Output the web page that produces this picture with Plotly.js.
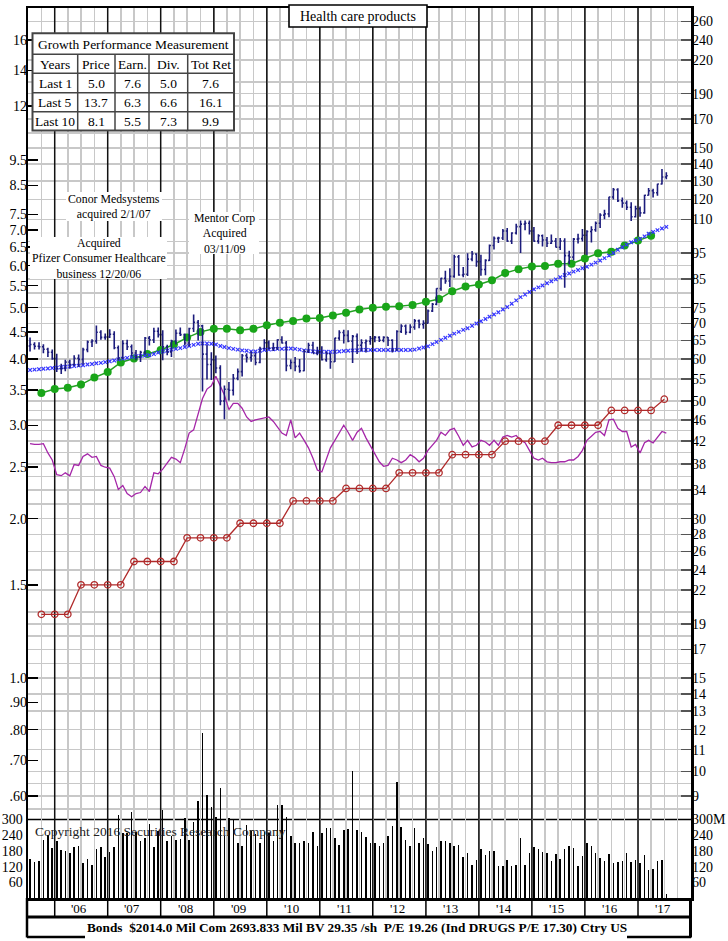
<!DOCTYPE html>
<html><head><meta charset="utf-8">
<script src="https://cdn.plot.ly/plotly-3.0.1.min.js"></script>
<style>html,body{margin:0;padding:0;background:#fff;}#chart{width:728px;height:941px;}</style>
</head><body><div id="chart"></div>
<script>
// ---------------- DATA ----------------
const firstMonth = [2005, 7];   // first monthly bar: Jul 2005
const priceOpen = [63.5,63.9,63.4,63.3,62.6,61.8,60.1,57.5,57.6,59.2,58.6,60.2,59.9,62.5,64.6,64.9,67.4,65.9,66.0,66.8,63.0,60.3,64.2,63.3,61.6,60.5,61.8,65.7,65.2,67.7,66.7,63.3,61.9,64.9,67.1,66.7,64.3,68.5,70.4,69.3,61.3,58.6,59.8,57.7,50.0,52.6,52.4,55.2,56.8,60.9,60.4,60.9,59.1,62.8,64.4,62.9,63.0,65.2,64.3,58.3,59.1,58.1,57.0,62.0,63.7,61.5,61.9,59.8,61.4,59.3,65.7,67.3,66.5,64.8,66.2,63.7,64.4,64.8,65.6,65.9,65.1,65.9,65.1,62.4,67.6,69.2,67.4,68.9,70.8,69.7,70.1,73.9,76.1,81.5,85.2,84.2,85.9,93.5,86.4,86.7,92.6,94.7,91.6,88.5,92.1,98.2,101.3,101.5,104.6,100.1,103.7,106.6,107.8,108.2,104.6,100.1,102.5,100.6,99.2,100.1,97.5,100.2,94.0,93.4,101.0,101.2,102.7,104.4,105.2,108.2,112.1,112.7,121.3,125.2,119.3,118.1,116.0,111.3,115.2,113.2,122.2,124.6,123.5,128.3,132.3];
const priceHigh = [65.9,64.5,64.5,64.0,63.0,62.5,61.4,58.8,59.8,59.8,61.0,61.2,63.0,65.0,65.4,69.4,68.0,67.0,68.3,67.7,63.6,65.1,65.2,63.9,62.4,62.2,66.0,66.3,68.7,68.8,68.0,63.8,65.2,68.2,68.8,67.0,68.7,72.8,71.1,69.6,63.8,61.8,60.9,58.4,53.5,54.3,56.2,57.6,61.3,61.5,62.0,61.7,63.3,65.4,65.0,64.4,65.4,66.2,64.9,59.9,60.5,60.0,62.5,64.4,64.7,63.3,63.4,62.0,61.5,65.8,68.0,68.1,68.0,66.6,67.0,65.4,65.3,66.3,66.3,66.2,66.2,66.0,65.4,68.0,69.8,69.7,69.8,71.4,71.2,71.0,74.4,76.5,81.6,85.4,88.0,89.0,94.4,94.3,89.5,95.0,95.9,95.0,94.4,92.5,98.7,102.1,102.0,105.5,106.0,104.0,108.0,109.5,109.5,109.5,106.5,103.2,103.0,101.9,103.0,101.5,101.5,101.4,96.0,101.5,103.4,105.5,105.0,106.8,109.0,113.0,114.7,121.4,126.1,125.9,121.0,119.4,118.5,116.8,116.4,122.5,126.1,125.7,128.5,137.0,135.0];
const priceLow = [62.0,62.5,62.5,61.5,60.5,59.8,56.7,56.2,56.9,57.5,58.3,58.0,58.6,61.8,63.2,64.1,65.2,65.2,65.7,62.6,59.7,60.0,62.4,60.7,59.7,59.2,61.2,63.6,64.3,65.9,59.7,61.0,60.5,63.9,66.3,63.6,63.4,67.5,65.0,52.1,54.9,54.8,56.4,49.1,46.2,50.1,51.2,54.7,55.6,59.1,59.3,58.4,58.9,62.6,62.6,62.1,62.4,64.2,56.9,57.4,56.9,56.5,56.9,61.6,61.5,61.0,59.6,59.3,57.5,59.2,65.0,64.2,64.5,59.0,61.3,62.0,61.7,63.8,64.5,64.6,64.5,63.5,61.7,62.2,67.2,66.7,67.1,68.1,68.6,68.4,70.0,73.6,75.8,80.7,83.2,82.0,85.4,86.1,85.6,86.0,91.7,89.6,86.1,86.3,91.8,96.5,99.3,100.6,99.8,98.9,103.0,95.1,104.9,103.0,99.8,99.0,97.8,97.6,98.9,97.4,96.3,81.8,90.5,92.1,99.1,100.0,94.3,99.5,104.3,106.0,110.1,111.1,119.9,118.6,115.7,114.6,109.3,110.9,111.3,112.8,122.0,121.0,121.9,128.0,131.0];
const priceClose = [63.9,63.4,63.3,62.6,61.8,60.1,57.5,57.6,59.2,58.6,60.2,59.9,62.5,64.6,64.9,67.4,65.9,66.0,66.8,63.0,60.3,64.2,63.3,61.6,60.5,61.8,65.7,65.2,67.7,66.7,63.3,61.9,64.9,67.1,66.7,64.3,68.5,70.4,69.3,61.3,58.6,59.8,57.7,50.0,52.6,52.4,55.2,56.8,60.9,60.4,60.9,59.1,62.8,64.4,62.9,63.0,65.2,64.3,58.3,59.1,58.1,57.0,62.0,63.7,61.5,61.9,59.8,61.4,59.3,65.7,67.3,66.5,64.8,66.2,63.7,64.4,64.8,65.6,65.9,65.1,65.9,65.1,62.4,67.6,69.2,67.4,68.9,70.8,69.7,70.1,73.9,76.1,81.5,85.2,84.2,85.9,93.5,86.4,86.7,92.6,94.7,91.6,88.5,92.1,98.2,101.3,101.5,104.6,100.1,103.7,106.6,107.8,108.2,104.6,100.1,102.5,100.6,99.2,100.1,97.5,100.2,94.0,93.4,101.0,101.2,102.7,104.4,105.2,108.2,112.1,112.7,121.3,125.2,119.3,118.1,116.0,111.3,115.2,113.2,122.2,124.6,123.5,128.3,132.3,133.0];
// moving average of price (right scale, $)
const movingAvg = [57.2,57.3,57.4,57.5,57.6,57.7,57.8,57.9,58.0,58.1,58.2,58.3,58.4,58.6,58.7,58.9,59.0,59.2,59.4,59.6,59.9,60.1,60.3,60.5,60.7,60.8,60.9,61.0,61.3,61.7,62.0,62.2,62.5,62.7,62.9,63.2,63.5,63.8,64.1,64.2,64.2,64.1,63.9,63.5,63.2,62.9,62.7,62.5,62.3,62.2,62.0,62.0,62.2,62.4,62.5,62.6,62.7,62.7,62.8,62.8,62.7,62.5,62.3,62.1,62.0,61.9,61.9,61.9,61.9,61.9,62.0,62.1,62.2,62.3,62.3,62.4,62.4,62.4,62.4,62.4,62.4,62.4,62.4,62.4,62.4,62.4,62.4,62.5,62.8,63.1,63.4,64.0,64.6,65.2,65.8,66.4,67.0,67.5,68.1,68.6,69.3,70.0,70.7,71.4,72.1,72.8,73.5,74.4,75.2,76.3,77.4,78.5,79.4,80.3,81.2,81.9,82.6,83.4,84.1,84.8,85.6,86.4,87.0,87.7,88.3,89.0,89.6,90.4,91.2,92.0,93.0,94.0,95.1,96.4,97.5,98.6,99.6,100.4,101.1,102.2,103.4,104.2,105.0,105.8,106.5];
// relative strength line (left scale units)
const relStrength = [2.77,2.76,2.76,2.77,2.66,2.58,2.42,2.41,2.44,2.41,2.53,2.52,2.62,2.65,2.61,2.62,2.52,2.50,2.49,2.40,2.27,2.31,2.23,2.20,2.23,2.24,2.30,2.25,2.44,2.43,2.48,2.55,2.61,2.59,2.55,2.71,2.90,2.94,3.14,3.37,3.51,3.56,3.71,3.55,3.42,3.21,3.30,3.30,3.23,3.11,3.05,3.07,3.08,3.09,3.11,3.05,2.98,2.90,2.87,3.07,2.84,2.90,2.81,2.72,2.60,2.47,2.45,2.60,2.72,2.81,2.91,3.00,2.91,2.81,2.91,2.96,2.84,2.74,2.64,2.56,2.51,2.52,2.60,2.58,2.55,2.58,2.64,2.61,2.56,2.60,2.69,2.75,2.81,2.91,2.87,2.94,2.96,2.86,2.75,2.81,2.73,2.75,2.81,2.79,2.75,2.81,2.75,2.85,2.87,2.85,2.87,2.81,2.78,2.69,2.60,2.58,2.60,2.56,2.55,2.55,2.56,2.56,2.58,2.58,2.62,2.69,2.81,2.86,2.91,2.92,2.87,3.07,3.08,2.96,2.92,2.92,2.73,2.76,2.66,2.78,2.81,2.78,2.85,2.92,2.90];
// monthly volume, millions of shares
const volume = [150,137,141,222,240,190,218,182,180,171,195,199,134,150,128,189,195,158,176,193,318,247,247,328,251,219,228,283,195,257,337,219,238,221,225,305,222,290,370,630,395,348,309,420,238,305,300,212,199,279,257,244,212,253,247,219,357,357,309,238,209,209,219,212,251,199,247,266,266,230,202,260,264,487,260,251,235,209,212,199,212,238,277,445,270,222,199,266,212,231,206,180,193,216,219,212,199,202,158,173,128,147,189,163,180,180,122,122,145,122,128,231,125,173,193,189,176,171,141,167,150,189,199,190,124,160,209,199,171,154,141,167,134,137,141,171,137,144,134,163,106,112,140,144,15];
// quarterly earnings (left scale, $/share), from Oct 2005
const firstQuarter = [2005, 10];
const earnings = [3.45,3.51,3.53,3.58,3.69,3.78,3.94,4.01,4.09,4.16,4.26,4.39,4.50,4.56,4.56,4.53,4.56,4.63,4.68,4.72,4.77,4.78,4.83,4.89,4.96,5.00,5.02,5.03,5.06,5.13,5.19,5.37,5.48,5.53,5.63,5.81,5.91,5.98,5.99,6.05,6.05,6.19,6.33,6.37,6.55,6.69,6.83];
// annual dividend rate (left scale), quarterly points
const dividends = [1.32,1.32,1.32,1.50,1.50,1.50,1.50,1.66,1.66,1.66,1.66,1.84,1.84,1.84,1.84,1.96,1.96,1.96,1.96,2.16,2.16,2.16,2.16,2.28,2.28,2.28,2.28,2.44,2.44,2.44,2.44,2.64,2.64,2.64,2.64,2.80,2.80,2.80,2.80,3.00,3.00,3.00,3.00,3.20,3.20,3.20,3.20,3.36];
// axis labels
const leftTicks = [0.6,0.7,0.8,0.9,1.0,1.5,2.0,2.5,3.0,3.5,4.0,4.5,5.0,5.5,6.0,6.5,7.0,7.5,8.5,9.5,12,14,16];
const leftTickText = ['.60','.70','.80','.90','1.0','1.5','2.0','2.5','3.0','3.5','4.0','4.5','5.0','5.5','6.0','6.5','7.0','7.5','8.5','9.5','12','14','16'];
const rightTicks = [9,10,11,12,13,14,15,17,19,22,24,26,28,30,34,38,42,46,50,55,60,65,70,75,85,95,110,120,130,140,150,170,190,220,240,260];
const priceGrid = [8.5,9,9.5,10,11,12,13,14,15,16,17,18,19,20,22,24,26,28,30,32,34,36,38,40,42,44,46,48,50,55,60,65,70,75,80,85,90,95,100,110,120,130,140,150,160,170,180,190,200,220,240,260];
const volTicks = [60,120,180,240,300];
const volTickTextL = ['60','120','180','240','300'];
const volTickTextR = ['60','120','180','240','300M'];
const years = ['06','07','08','09','10','11','12','13','14','15','16','17'];
const tableTitle = 'Growth Performance Measurement';
const tableHead = ['Years','Price','Earn.','Div.','Tot Ret'];
const tableRows = [['Last 1','5.0','7.6','5.0','7.6'],['Last 5','13.7','6.3','6.6','16.1'],['Last 10','8.1','5.5','7.3','9.9']];
const chartTitle = 'Health care products';
const footer = 'Bonds\u00a0 $2014.0 Mil Com 2693.833 Mil BV 29.35 /sh\u00a0 P/E 19.26 (Ind DRUGS P/E 17.30) Ctry US';
const copyright = 'Copyright 2016 Securities Research Company';
const notes = [
  {lines:['Conor Medsystems','acquired 2/1/07'], cx:114, cy:206.5, box:[66, 162, 192, 221]},
  {lines:['Acquired','Pfizer Consumer Healthcare','business 12/20/06'], cx:98.5, cy:258.5, box:[30, 167, 237, 279]},
  {lines:['Mentor Corp','Acquired','03/11/09'], cx:224, cy:233.5, box:[189, 259, 212, 254]}
];

// ---------------- BUILD ----------------
function monthDate(start, i, day) {
  const t = start[0]*12 + (start[1]-1) + i;
  const y = Math.floor(t/12), m = t%12 + 1;
  return y + '-' + String(m).padStart(2,'0') + '-' + day;
}
const mDates = priceClose.map((_, i) => monthDate(firstMonth, i, '15'));
const qDatesE = earnings.map((_, i) => monthDate(firstQuarter, 3*i, '01'));
const qDatesD = dividends.map((_, i) => monthDate(firstQuarter, 3*i, '01'));

const W = 728, H = 941, L = 28, R = 37, T = 8, B = 43;
const pw = W - L - R, ph = H - T - B;
const P = (px, py) => ({x: (px - L)/pw, y: (H - B - py)/ph});
const SERIF = 'Liberation Serif, Times New Roman, serif';
const VOLMAX = 3401;

const traces = [
  {type:'bar', x:mDates, y:volume, yaxis:'y', marker:{color:'#000'}, width:9e8, hoverinfo:'skip'},
  {type:'scatter', mode:'lines', x:mDates, y:relStrength, yaxis:'y2', line:{color:'#a526a8', width:1.3}, hoverinfo:'skip'},
  {type:'scatter', mode:'lines+markers', x:qDatesD, y:dividends, yaxis:'y2', line:{color:'#b02a2a', width:1.3},
    marker:{symbol:'circle-open', size:6.5, color:'#b02a2a', line:{width:1.3}}, hoverinfo:'skip'},
  {type:'scatter', mode:'lines+markers', x:qDatesE, y:earnings, yaxis:'y2', line:{color:'#22a022', width:1.5},
    marker:{symbol:'circle', size:8, color:'#19a519'}, hoverinfo:'skip'},
  {type:'scatter', mode:'markers', x:mDates, y:movingAvg, yaxis:'y3',
    marker:{symbol:'x-thin', size:3.6, line:{color:'#3535ff', width:1.2}}, hoverinfo:'skip'},
  {type:'ohlc', x:mDates, open:priceOpen, high:priceHigh, low:priceLow, close:priceClose, yaxis:'y4',
    increasing:{line:{color:'#1c1c7c', width:1.6}}, decreasing:{line:{color:'#1c1c7c', width:1.6}}, tickwidth:0.35, hoverinfo:'skip'},
  {type:'scatter', x:[], y:[], yaxis:'y5', hoverinfo:'skip'}
];

const tickfont = {family:SERIF, size:14, color:'#000'};
const logL = [Math.log10(0.385), Math.log10(18.37)];
const logR = [logL[0] + Math.log10(15), logL[1] + Math.log10(15)];

const shapes = [];
const annotations = [];
function ann(px, py, text, font, xa) {
  const p = P(px, py);
  annotations.push({xref:'paper', yref:'paper', x:p.x, y:p.y, text:text, showarrow:false, font:font,
    xanchor:xa || 'center', yanchor:'middle', align:'center'});
}
// year lines (black) through plot
for (let y = 2006; y <= 2017; y++) {
  shapes.push({type:'line', xref:'x', yref:'y', x0:y+'-01-01', x1:y+'-01-01', y0:0, y1:VOLMAX, layer:'between', line:{color:'#111', width:1.5}});
  shapes.push({type:'line', xref:'x', yref:'paper', x0:y+'-01-01', x1:y+'-01-01', y0:P(0,917).y, y1:0, line:{color:'#000', width:1.5}});
}
// 300M separator
shapes.push({type:'line', xref:'paper', yref:'y', x0:0, x1:1, y0:300, y1:300, layer:'between', line:{color:'#000', width:1.6}});
// year strip / footer frame
shapes.push({type:'line', xref:'paper', yref:'paper', x0:0, x1:1, y0:P(0,917).y, y1:P(0,917).y, line:{color:'#000', width:3}});
shapes.push({type:'line', xref:'paper', yref:'paper', x0:P(27,0).x, x1:P(27,0).x, y0:0, y1:P(0,937.5).y, line:{color:'#000', width:2.5}});
shapes.push({type:'line', xref:'paper', yref:'paper', x0:P(690.5,0).x, x1:P(690.5,0).x, y0:0, y1:P(0,937.5).y, line:{color:'#000', width:3}});
shapes.push({type:'line', xref:'paper', yref:'paper', x0:P(27,0).x, x1:P(85,0).x, y0:P(0,937).y, y1:P(0,937).y, line:{color:'#000', width:2.5}});
shapes.push({type:'line', xref:'paper', yref:'paper', x0:P(627,0).x, x1:P(691,0).x, y0:P(0,937).y, y1:P(0,937).y, line:{color:'#000', width:2.5}});
for (let i = 0; i < years.length; i++) {
  annotations.push({xref:'x', yref:'paper', x:(2006+i)+'-06-20', y:P(0,908).y, text:"'" + years[i], showarrow:false,
    font:{family:SERIF, size:13, color:'#000'}, xanchor:'center', yanchor:'middle'});
}
ann(357, 927.5, '<b>'+footer+'</b>', {family:SERIF, size:13.3, color:'#000'});

// title box
shapes.push({type:'rect', xref:'paper', yref:'paper', x0:P(289,0).x, x1:P(427,0).x, y0:P(0,27).y, y1:P(0,5).y, fillcolor:'#fff', line:{color:'#000', width:1.6}, layer:'above'});
ann(358, 16, chartTitle, {family:SERIF, size:14, color:'#000'});

// growth table
const tX = [32.5, 77.7, 115, 149, 187.7, 234];
const tY = [33.3, 54.3, 73.3, 92.7, 111.7, 130.5];
shapes.push({type:'rect', xref:'paper', yref:'paper', x0:P(tX[0],0).x, x1:P(tX[5],0).x, y0:P(0,tY[5]).y, y1:P(0,tY[0]).y, fillcolor:'#fff', line:{color:'#444', width:2}, layer:'above'});
for (let r = 1; r < 5; r++) shapes.push({type:'line', xref:'paper', yref:'paper', x0:P(tX[0],0).x, x1:P(tX[5],0).x, y0:P(0,tY[r]).y, y1:P(0,tY[r]).y, line:{color:'#444', width:1.5}, layer:'above'});
for (let c = 1; c < 5; c++) shapes.push({type:'line', xref:'paper', yref:'paper', x0:P(tX[c],0).x, x1:P(tX[c],0).x, y0:P(0,tY[5]).y, y1:P(0,tY[1]).y, line:{color:'#444', width:1.5}, layer:'above'});
const tf = {family:SERIF, size:13.5, color:'#000'};
ann((tX[0]+tX[5])/2, (tY[0]+tY[1])/2 + 0.5, tableTitle, tf);
const rowsAll = [tableHead].concat(tableRows);
rowsAll.forEach((row, r) => row.forEach((cell, c) => {
  ann((tX[c]+tX[c+1])/2, (tY[r+1]+tY[r+2])/2 + 0.5, cell, tf);
}));

// event notes
const nf = {family:SERIF, size:11.8, color:'#000'};
notes.forEach(n => {
  shapes.push({type:'rect', xref:'paper', yref:'paper', x0:P(n.box[0],0).x, x1:P(n.box[1],0).x, y0:P(0,n.box[3]).y, y1:P(0,n.box[2]).y, fillcolor:'#fff', line:{width:0}, layer:'above'});
  ann(n.cx, n.cy, n.lines.join('<br>'), nf);
});
ann(33, 831, copyright, {family:SERIF, size:13.5, color:'#222'}, 'left');

const layout = {
  width:W, height:H, margin:{l:L, r:R, t:T, b:B, pad:0},
  paper_bgcolor:'#fff', plot_bgcolor:'#fff', showlegend:false, hovermode:false, bargap:0,
  xaxis:{type:'date', range:['2005-07-01','2018-01-01'], showgrid:true, gridcolor:'#c8c8c8', gridwidth:1.5,
    dtick:'M3', tick0:'2006-01-01', showticklabels:false, ticks:'', showline:true, mirror:true, linecolor:'#000', linewidth:2.5,
    zeroline:false, rangeslider:{visible:false}, fixedrange:true},
  yaxis:{range:[0,VOLMAX], showgrid:false, zeroline:false, tickmode:'array', tickvals:volTicks, ticktext:volTickTextL,
    ticks:'', tickfont:tickfont, showline:true, mirror:true, linecolor:'#000', linewidth:2.5, fixedrange:true},
  yaxis2:{type:'log', range:logL, overlaying:'y', side:'left', tickmode:'array', tickvals:leftTicks, ticktext:leftTickText,
    ticks:'inside', ticklen:10, tickwidth:1.5, tickcolor:'#000', tickfont:tickfont, showgrid:false, zeroline:false, showline:false, fixedrange:true},
  yaxis3:{type:'log', range:logR, overlaying:'y', side:'right', tickmode:'array', tickvals:priceGrid, showticklabels:false, ticks:'',
    showgrid:true, gridcolor:'#c8c8c8', gridwidth:1.5, zeroline:false, showline:false, fixedrange:true},
  yaxis4:{type:'log', range:logR, overlaying:'y', side:'right', tickmode:'array', tickvals:rightTicks, ticktext:rightTicks.map(String),
    ticks:'inside', ticklen:10, tickwidth:1.5, tickcolor:'#555', tickfont:tickfont, showgrid:false, zeroline:false, showline:false, fixedrange:true},
  yaxis5:{range:[0,VOLMAX], overlaying:'y', side:'right', tickmode:'array', tickvals:volTicks, ticktext:volTickTextR,
    ticks:'', tickfont:tickfont, showgrid:false, zeroline:false, showline:false, fixedrange:true},
  shapes:shapes, annotations:annotations
};
Plotly.newPlot('chart', traces, layout, {staticPlot:true, displayModeBar:false});
</script></body></html>
